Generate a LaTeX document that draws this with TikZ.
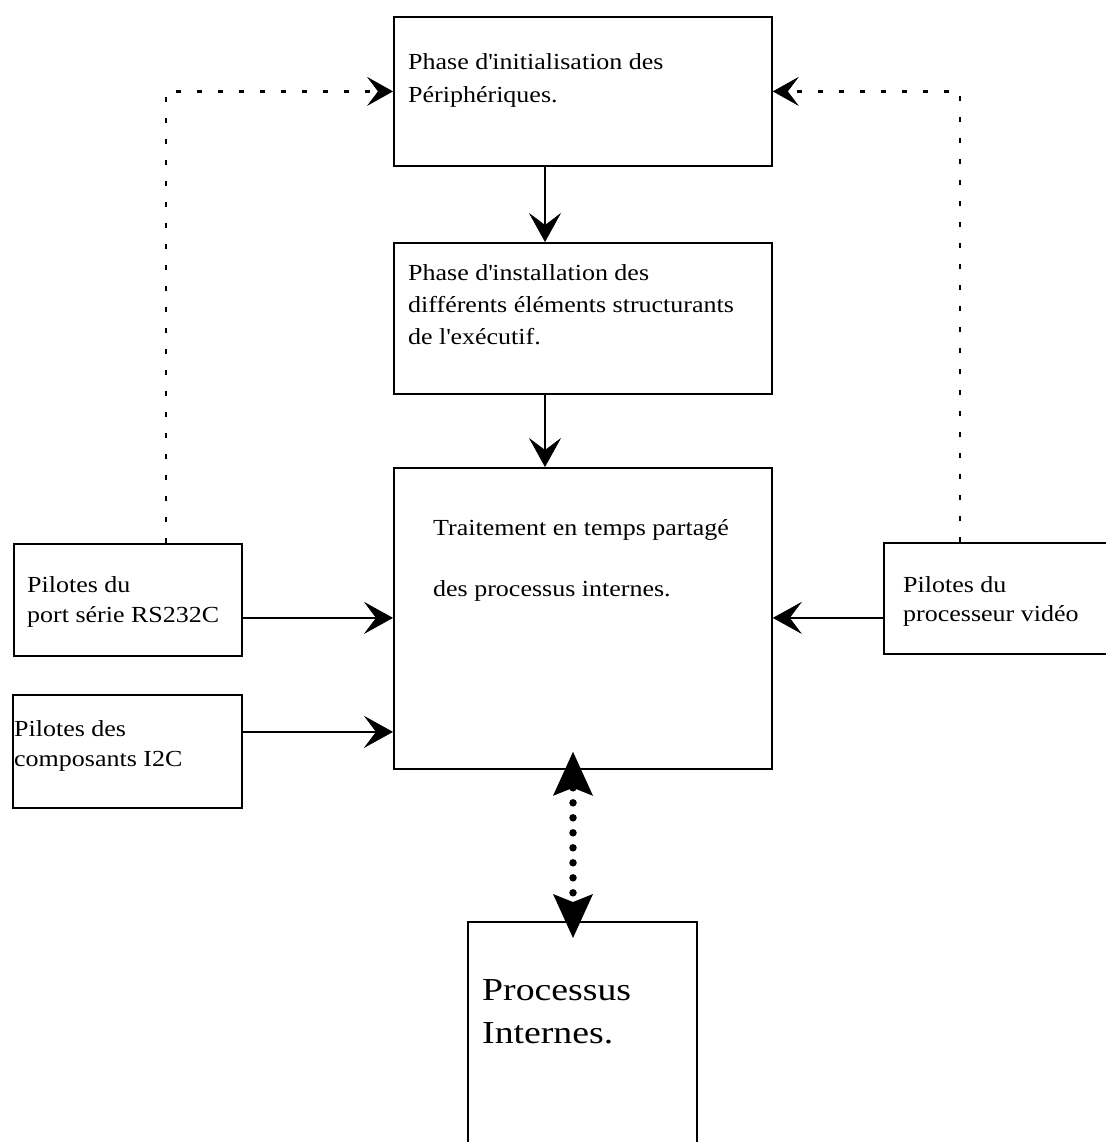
\documentclass[tikz,border=0pt]{standalone}
\usepackage{fontspec}
\setmainfont[FakeStretch=1.13]{Liberation Serif}
\newfontfamily\bigserif[FakeStretch=1.18]{Liberation Serif}
\usetikzlibrary{arrows.meta}
\newcommand{\apo}{\textquotesingle}
\begin{document}
\begin{tikzpicture}[x=1pt,y=-1pt,
  box/.style={draw,line width=1.8pt,inner sep=0pt,anchor=north west},
  txt/.style={inner sep=0pt,anchor=base west,font=\fontsize{23}{28}\selectfont},
  bigtxt/.style={inner sep=0pt,anchor=base west,font=\bigserif\fontsize{32}{38}\selectfont},
  arr/.style={line width=1.8pt,-{Stealth[length=29pt,width=32pt,inset=12pt,line width=0.6pt]}},
  dotarr/.style={line width=2.4pt,dash pattern=on 5pt off 16pt,-{Stealth[length=26pt,width=29pt,inset=11pt,line width=0.6pt]}},
  dbl/.style={line width=7.5pt,line cap=round,dash pattern=on 0pt off 15pt,
    arrows={Stealth[length=44pt,width=40pt,inset=8pt,line width=0pt]-Stealth[length=44pt,width=40pt,inset=8pt,line width=0pt]}}
]
\useasboundingbox (0,0) rectangle (1105,1142);

% boxes
\node[box,minimum width=378pt,minimum height=149pt] (top) at (393,16) {};
\node[box,minimum width=378pt,minimum height=151pt] (mid) at (393,242) {};
\node[box,minimum width=378pt,minimum height=301pt] (ctr) at (393,467) {};
\node[box,minimum width=228pt,minimum height=112pt] (l1) at (13,543) {};
\node[box,minimum width=229pt,minimum height=113pt] (l2) at (12,694) {};
\node[box,minimum width=226pt,minimum height=111pt] (r1) at (883,542) {};
\node[box,minimum width=229pt,minimum height=230pt] (bot) at (467,921) {};

% texts
\node[txt] (t1a) at (408,70) {Phase d\apo initialisation des};
\node[txt] (t1b) at (408,103) {Périphériques.};
\node[txt] (t2a) at (408,280) {Phase d\apo installation des};
\node[txt] (t2b) at (408,312) {différents éléments structurants};
\node[txt] (t2c) at (408,344) {de l\apo exécutif.};
\node[txt] (t3a) at (433,535) {Traitement en temps partagé};
\node[txt] (t3b) at (433,596) {des processus internes.};
\node[txt] (t4a) at (27,592) {Pilotes du};
\node[txt] (t4b) at (27,622) {port série RS232C};
\node[txt] (t5a) at (14,736) {Pilotes des};
\node[txt] (t5b) at (14,766) {composants I2C};
\node[txt] (t6a) at (903,592) {Pilotes du};
\node[txt] (t6b) at (903,621) {processeur vidéo};
\node[bigtxt] (t7a) at (482,1000) {Processus};
\node[bigtxt] (t7b) at (482,1043) {Internes.};

% connectors
\draw[arr] ([xshift=152pt]top.south west) -- ([xshift=152pt]mid.north west);
\draw[arr] ([xshift=152pt]mid.south west) -- ([xshift=152pt]ctr.north west);
\draw[arr] ([yshift=-18pt]l1.east) -- ([yshift=-18pt]l1.east -| ctr.west);
\draw[arr] ([yshift=19.5pt]l2.east) -- ([yshift=19.5pt]l2.east -| ctr.west);
\draw[arr] ([yshift=-19.5pt]r1.west) -- ([yshift=-19.5pt]r1.west -| ctr.east);
\draw[dotarr] ([xshift=153pt]l1.north west) |- (top.west);
\draw[dotarr] ([xshift=77pt]r1.north west) |- (top.east);
\draw[dbl] ([xshift=180pt,yshift=18pt]ctr.south west) -- ([xshift=106pt,yshift=-17pt]bot.north west);
\end{tikzpicture}
\end{document}
